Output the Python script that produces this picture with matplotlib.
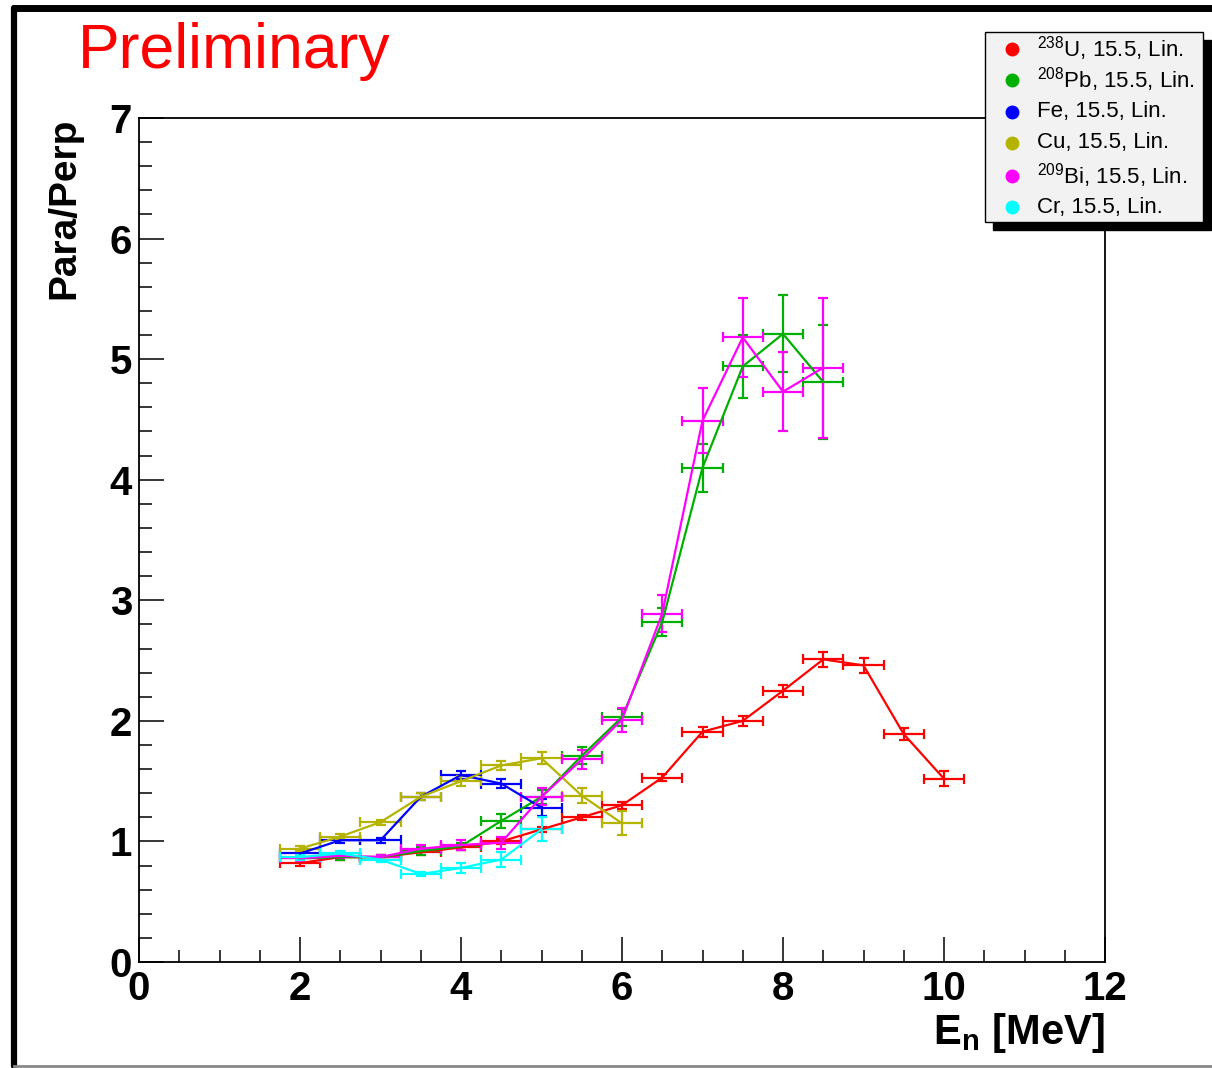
import numpy as np
import matplotlib
matplotlib.use("Agg")
import matplotlib.pyplot as plt
from matplotlib.lines import Line2D
from matplotlib.patches import Rectangle

plt.rcParams['font.family'] = ['Liberation Sans', 'DejaVu Sans']
plt.rcParams['mathtext.default'] = 'regular'

##### DATA
e_u = [2.0, 2.5, 3.0, 3.5, 4.0, 4.5, 5.0, 5.5, 6.0, 6.5, 7.0, 7.5, 8.0, 8.5, 9.0, 9.5, 10.0]
r_u = [0.82, 0.87, 0.87, 0.91, 0.95, 1.0, 1.1, 1.2, 1.3, 1.53, 1.91, 2.0, 2.25, 2.51, 2.46, 1.89, 1.52]
d_u = [0.02, 0.02, 0.02, 0.02, 0.02, 0.02, 0.02, 0.02, 0.03, 0.03, 0.04, 0.04, 0.05, 0.06, 0.06, 0.05, 0.06]

e_pb = [2.0, 2.5, 3.0, 3.5, 4.0, 4.5, 5.0, 5.5, 6.0, 6.5, 7.0, 7.5, 8.0, 8.5]
r_pb = [0.86, 0.87, 0.87, 0.92, 0.96, 1.17, 1.37, 1.71, 2.03, 2.82, 4.10, 4.94, 5.21, 4.81]
d_pb = [0.02, 0.02, 0.02, 0.03, 0.03, 0.06, 0.06, 0.07, 0.07, 0.12, 0.20, 0.26, 0.32, 0.47]

e_fe = [2.0, 2.5, 3.0, 3.5, 4.0, 4.5, 5.0]
r_fe = [0.90, 1.01, 1.01, 1.37, 1.55, 1.48, 1.28]
d_fe = [0.02, 0.02, 0.02, 0.03, 0.03, 0.04, 0.07]

e_cu = [2.0, 2.5, 3.0, 3.5, 4.0, 4.5, 5.0, 5.5, 6.0]
r_cu = [0.94, 1.04, 1.16, 1.37, 1.50, 1.63, 1.69, 1.38, 1.15]
d_cu = [0.02, 0.02, 0.02, 0.03, 0.04, 0.04, 0.05, 0.06, 0.10]

e_bi = [2.0, 2.5, 3.0, 3.5, 4.0, 4.5, 5.0, 5.5, 6.0, 6.5, 7.0, 7.5, 8.0, 8.5]
r_bi = [0.86, 0.88, 0.87, 0.94, 0.97, 0.99, 1.37, 1.68, 2.01, 2.89, 4.49, 5.18, 4.73, 4.93]
d_bi = [0.02, 0.02, 0.02, 0.03, 0.04, 0.05, 0.07, 0.08, 0.10, 0.15, 0.27, 0.33, 0.33, 0.58]

e_cr = [2.0, 2.5, 3.0, 3.5, 4.0, 4.5, 5.0]
r_cr = [0.87, 0.90, 0.85, 0.73, 0.78, 0.85, 1.10]
d_cr = [0.02, 0.02, 0.02, 0.02, 0.04, 0.06, 0.10]

bin_half = 0.25

series = [
    (e_u, r_u, d_u, '#ff0000', r'$^{238}$U, 15.5, Lin.'),
    (e_pb, r_pb, d_pb, '#00b000', r'$^{208}$Pb, 15.5, Lin.'),
    (e_fe, r_fe, d_fe, '#0000ff', 'Fe, 15.5, Lin.'),
    (e_cu, r_cu, d_cu, '#b3b300', 'Cu, 15.5, Lin.'),
    (e_bi, r_bi, d_bi, '#ff00ff', r'$^{209}$Bi, 15.5, Lin.'),
    (e_cr, r_cr, d_cr, '#00ffff', 'Cr, 15.5, Lin.'),
]

##### FIGURA
fig = plt.figure(figsize=(12.12, 10.68), dpi=100)
W, H = 1212.0, 1068.0
ax = fig.add_axes([139 / W, 1 - 962 / H, (1105 - 139) / W, (962 - 118) / H])

for e, r, d, c, lab in series:
    ax.errorbar(e, r, xerr=bin_half, yerr=d, color=c, lw=1.6, elinewidth=1.6,
                capsize=3.5, capthick=1.6)

ax.set_xlim(0, 12)
ax.set_ylim(0, 7)
ax.set_xticks(np.arange(0, 13, 2))
ax.set_xticks(np.arange(0, 12.01, 0.5), minor=True)
ax.set_yticks(np.arange(0, 8, 1))
ax.set_yticks(np.arange(0, 7.01, 0.2), minor=True)
ax.tick_params(which='both', direction='in', top=False, right=False, width=1.1)
ax.tick_params(which='major', length=18, labelsize=29, pad=6)
ax.tick_params(which='minor', length=9)
ax.tick_params(axis='y', which='major', pad=5)
for lbl in ax.get_xticklabels() + ax.get_yticklabels():
    lbl.set_fontweight('bold')
for s in ax.spines.values():
    s.set_linewidth(1.3)

ax.set_xlabel(r'E$_{n}$ [MeV]', fontsize=30, fontweight='bold', loc='right', labelpad=2)
ax.set_ylabel('Para/Perp', fontsize=28, fontweight='bold', loc='top', labelpad=20)

fig.text(78 / W, 1 - 68 / H, 'Preliminary', color='#ff0000', fontsize=45)

##### LEYENDA
lx0, lx1, ly0, ly1 = 985, 1203, 32, 222
sh = 8
fig.add_artist(Rectangle(((lx0 + sh) / W, 1 - (ly1 + sh) / H), (lx1 - lx0) / W, (ly1 - ly0) / H,
                         transform=fig.transFigure, facecolor='black', edgecolor='black', zorder=5))
fig.add_artist(Rectangle((lx0 / W, 1 - ly1 / H), (lx1 - lx0) / W, (ly1 - ly0) / H,
                         transform=fig.transFigure, facecolor='#f2f2f2', edgecolor='black',
                         lw=1.0, zorder=6))
row_y = [49, 80, 112, 143, 176, 207]
for (e, r, d, c, lab), yy in zip(series, row_y):
    fig.add_artist(Line2D([1012 / W], [1 - yy / H], marker='o', markersize=9, color=c,
                          transform=fig.transFigure, zorder=7))
    fig.text(1037 / W, 1 - yy / H, lab, fontsize=16, va='center', ha='left', zorder=7)

##### MARCO DEL CANVAS
fig.add_artist(Line2D([14 / W, 14 / W], [1 - 1066 / H, 1 - 8 / H], color='black', lw=4.5,
                      transform=fig.transFigure, solid_capstyle='round'))
fig.add_artist(Line2D([14 / W, 1.0], [1 - 8 / H, 1 - 8 / H], color='black', lw=5,
                      transform=fig.transFigure, solid_capstyle='round'))
fig.add_artist(Line2D([14 / W, 1.0], [1 - 1066 / H, 1 - 1066 / H], color='#888888', lw=2,
                      transform=fig.transFigure))

fig.savefig('out.png', dpi=100)
